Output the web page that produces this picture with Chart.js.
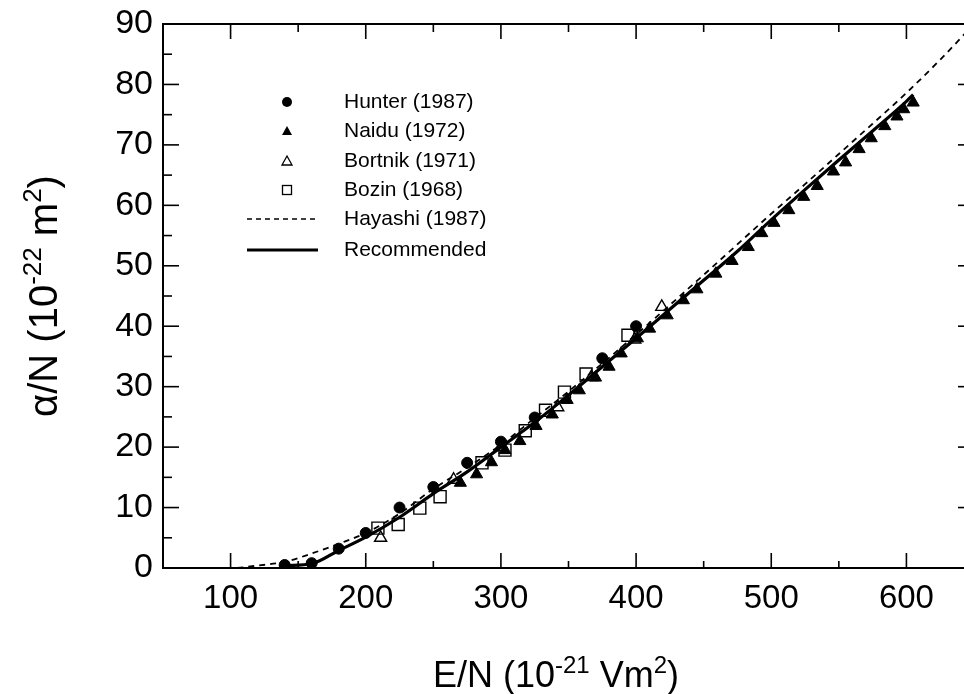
<!DOCTYPE html>
<html>
<head>
<meta charset="utf-8">
<script src="https://cdn.jsdelivr.net/npm/chart.js@4/dist/chart.umd.min.js"></script>
<style>
  html, body { margin: 0; padding: 0; background: #fff; overflow: hidden; width: 964px; height: 694px; }
  canvas { display: block; }
</style>
</head>
<body>
<canvas id="c" width="990" height="694"></canvas>
<script>
// E/N (1e-21 V m2) and alpha/N (1e-22 m2)
const hunterX = [140, 160, 180, 200, 225, 250, 275, 300, 325, 375, 400];
const hunterY = [0.5, 0.8, 3.2, 5.8, 10.0, 13.4, 17.4, 20.9, 24.9, 34.7, 40.0];

const naiduX = [270, 282, 293, 303, 314, 326, 338, 349, 358, 370, 380, 389, 401, 410, 423, 435, 445, 459, 471, 483, 493, 502, 513, 524, 534, 546, 555, 565, 574, 584, 593, 598, 605];
const naiduY = [14.1, 15.5, 17.5, 19.5, 21.0, 23.5, 25.4, 27.8, 29.4, 31.5, 33.3, 35.5, 38.0, 39.6, 41.8, 44.3, 46.1, 48.7, 50.8, 53.1, 55.4, 57.1, 59.2, 61.4, 63.2, 65.6, 67.1, 69.3, 71.1, 73.1, 74.7, 75.9, 77.0];

const bortnikX = [211, 265, 300, 342, 367, 399, 419];
const bortnikY = [5.0, 14.6, 20.0, 26.6, 31.6, 37.8, 43.2];

const bozinX = [209, 224, 240, 255, 286, 303, 318, 333, 347, 363, 394];
const bozinY = [6.6, 7.2, 9.9, 11.8, 17.4, 19.5, 22.7, 26.1, 29.1, 32.1, 38.5];

const hayashiX = [105, 120, 140, 160, 180, 200, 225, 250, 275, 300, 325, 350, 400, 450, 500, 525, 550, 575, 600, 625, 650];
const hayashiY = [0.0, 0.4, 1.0, 2.4, 4.0, 5.8, 9.0, 13.1, 16.6, 20.4, 24.8, 29.2, 38.6, 48.5, 58.6, 63.5, 68.5, 73.5, 78.6, 84.1, 90.0];

const recX = [141, 160, 180, 200, 225, 250, 275, 300, 325, 350, 375, 400, 425, 450, 475, 500, 525, 550, 575, 600, 605];
const recY = [0.4, 0.7, 2.9, 5.1, 8.4, 12.3, 15.9, 20.0, 24.1, 28.6, 33.3, 38.0, 42.8, 47.6, 52.4, 57.6, 62.6, 67.5, 72.3, 77.2, 78.3];

const xLabels = [100, 200, 300, 400, 500, 600];
const xMinor = [150, 250, 350, 450, 550, 650];
const yMajor = [10, 20, 30, 40, 50, 60, 70, 80];
const yMinor = [5, 15, 25, 35, 45, 55, 65, 75, 85];

const legendNames = ['Hunter (1987)', 'Naidu (1972)', 'Bortnik (1971)', 'Bozin (1968)', 'Hayashi (1987)', 'Recommended'];

const FONT = '"Liberation Sans", Arial, Helvetica, sans-serif';
const pts = (xs, ys) => xs.map((v, i) => ({ x: v, y: ys[i] }));

function line(ctx, x1, y1, x2, y2) {
  ctx.beginPath(); ctx.moveTo(x1, y1); ctx.lineTo(x2, y2); ctx.stroke();
}

// frame with inward ticks, legend and axis titles
const decor = {
  id: 'decor',
  afterDraw(chart) {
    const ctx = chart.ctx, a = chart.chartArea, x = chart.scales.x, y = chart.scales.y;
    ctx.save();
    ctx.strokeStyle = '#000';
    ctx.lineWidth = 2;
    ctx.strokeRect(a.left, a.top, a.right - a.left, a.bottom - a.top);
    ctx.lineWidth = 1.6;
    xLabels.forEach(v => { const p = x.getPixelForValue(v); line(ctx, p, a.bottom, p, a.bottom - 15); line(ctx, p, a.top, p, a.top + 15); });
    xMinor.forEach(v => { const p = x.getPixelForValue(v); line(ctx, p, a.bottom, p, a.bottom - 7); line(ctx, p, a.top, p, a.top + 8); });
    yMajor.forEach(v => { const p = y.getPixelForValue(v); line(ctx, a.left, p, a.left + 16, p); line(ctx, a.right, p, a.right - 16, p); });
    yMinor.forEach(v => { const p = y.getPixelForValue(v); line(ctx, a.left, p, a.left + 9, p); line(ctx, a.right, p, a.right - 8, p); });

    // legend
    const mx = 287, tx = 344, rows = [102, 131, 161, 190, 219, 250];
    ctx.fillStyle = '#000';
    ctx.lineWidth = 1.3;
    ctx.beginPath(); ctx.arc(mx, rows[0], 5, 0, Math.PI * 2); ctx.fill();
    ctx.beginPath(); ctx.moveTo(mx, rows[1] - 5); ctx.lineTo(mx + 5, rows[1] + 4); ctx.lineTo(mx - 5, rows[1] + 4); ctx.closePath(); ctx.fill();
    ctx.beginPath(); ctx.moveTo(mx, rows[2] - 5); ctx.lineTo(mx + 5, rows[2] + 4); ctx.lineTo(mx - 5, rows[2] + 4); ctx.closePath(); ctx.stroke();
    ctx.strokeRect(mx - 4.5, rows[3] - 4.5, 9, 9);
    ctx.lineWidth = 1.6; ctx.setLineDash([5, 4]);
    line(ctx, 247, rows[4], 318, rows[4]);
    ctx.setLineDash([]); ctx.lineWidth = 3;
    line(ctx, 247, rows[5], 318, rows[5]);
    ctx.font = '21px ' + FONT;
    ctx.textBaseline = 'middle';
    ctx.textAlign = 'left';
    legendNames.forEach((t, i) => ctx.fillText(t, tx, rows[i]));

    // axis titles with superscripts
    function drawRich(parts, cx, base, big, small, rise) {
      let w = 0;
      parts.forEach(p => { ctx.font = (p[1] ? small : big) + 'px ' + FONT; w += ctx.measureText(p[0]).width; });
      let px = cx - w / 2;
      ctx.textAlign = 'left'; ctx.textBaseline = 'alphabetic';
      parts.forEach(p => {
        ctx.font = (p[1] ? small : big) + 'px ' + FONT;
        ctx.fillText(p[0], px, base - (p[1] ? rise : 0));
        px += ctx.measureText(p[0]).width;
      });
    }
    drawRich([['E/N (10', 0], ['-21', 1], [' Vm', 0], ['2', 1], [')', 0]], 556, 687, 36, 24, 14);
    ctx.translate(57, 296);
    ctx.rotate(-Math.PI / 2);
    drawRich([['\u03b1/N (10', 0], ['-22', 1], [' m', 0], ['2', 1], [')', 0]], 0, 0, 40, 26, 16);
    ctx.restore();
  }
};

new Chart(document.getElementById('c'), {
  type: 'scatter',
  data: {
    datasets: [
      { label: 'Recommended', type: 'line', data: pts(recX, recY), borderColor: '#000', borderWidth: 3.2, pointRadius: 0, fill: false, cubicInterpolationMode: 'monotone', order: 0 },
      { label: 'Hayashi (1987)', type: 'line', data: pts(hayashiX, hayashiY), borderColor: '#000', borderWidth: 1.8, borderDash: [6, 5], pointRadius: 0, fill: false, cubicInterpolationMode: 'monotone', order: 0 },
      { label: 'Hunter (1987)', data: pts(hunterX, hunterY), pointStyle: 'circle', pointRadius: 5.5, backgroundColor: '#000', borderColor: '#000', borderWidth: 1, order: 1 },
      { label: 'Naidu (1972)', data: pts(naiduX, naiduY), pointStyle: 'triangle', pointRadius: 7, backgroundColor: '#000', borderColor: '#000', borderWidth: 1, order: 1 },
      { label: 'Bortnik (1971)', data: pts(bortnikX, bortnikY), pointStyle: 'triangle', pointRadius: 7, backgroundColor: 'rgba(0,0,0,0)', borderColor: '#000', borderWidth: 1.4, order: 1 },
      { label: 'Bozin (1968)', data: pts(bozinX, bozinY), pointStyle: 'rect', pointRadius: 8.5, backgroundColor: 'rgba(0,0,0,0)', borderColor: '#000', borderWidth: 1.4, order: 1 }
    ]
  },
  options: {
    responsive: false,
    devicePixelRatio: 1,
    animation: false,
    events: [],
    layout: { padding: { left: 0, top: 24, right: 16, bottom: 0 } },
    plugins: { legend: { display: false }, tooltip: { enabled: false } },
    scales: {
      x: {
        type: 'linear', min: 50, max: 650,
        afterBuildTicks: axis => { axis.ticks = xLabels.map(v => ({ value: v })); },
        afterFit: axis => { axis.height = 126; axis.paddingLeft = 0; axis.paddingRight = 0; },
        grid: { display: false, drawTicks: false },
        border: { display: false },
        ticks: { color: '#000', font: { family: FONT, size: 33 }, padding: 11, autoSkip: false, maxRotation: 0 }
      },
      y: {
        type: 'linear', min: 0, max: 90,
        afterFit: axis => { axis.width = 163; axis.paddingTop = 0; axis.paddingBottom = 0; },
        grid: { display: false, drawTicks: false },
        border: { display: false },
        ticks: { stepSize: 10, color: '#000', font: { family: FONT, size: 34 }, padding: 10 }
      }
    }
  },
  plugins: [decor]
});
</script>
</body>
</html>
